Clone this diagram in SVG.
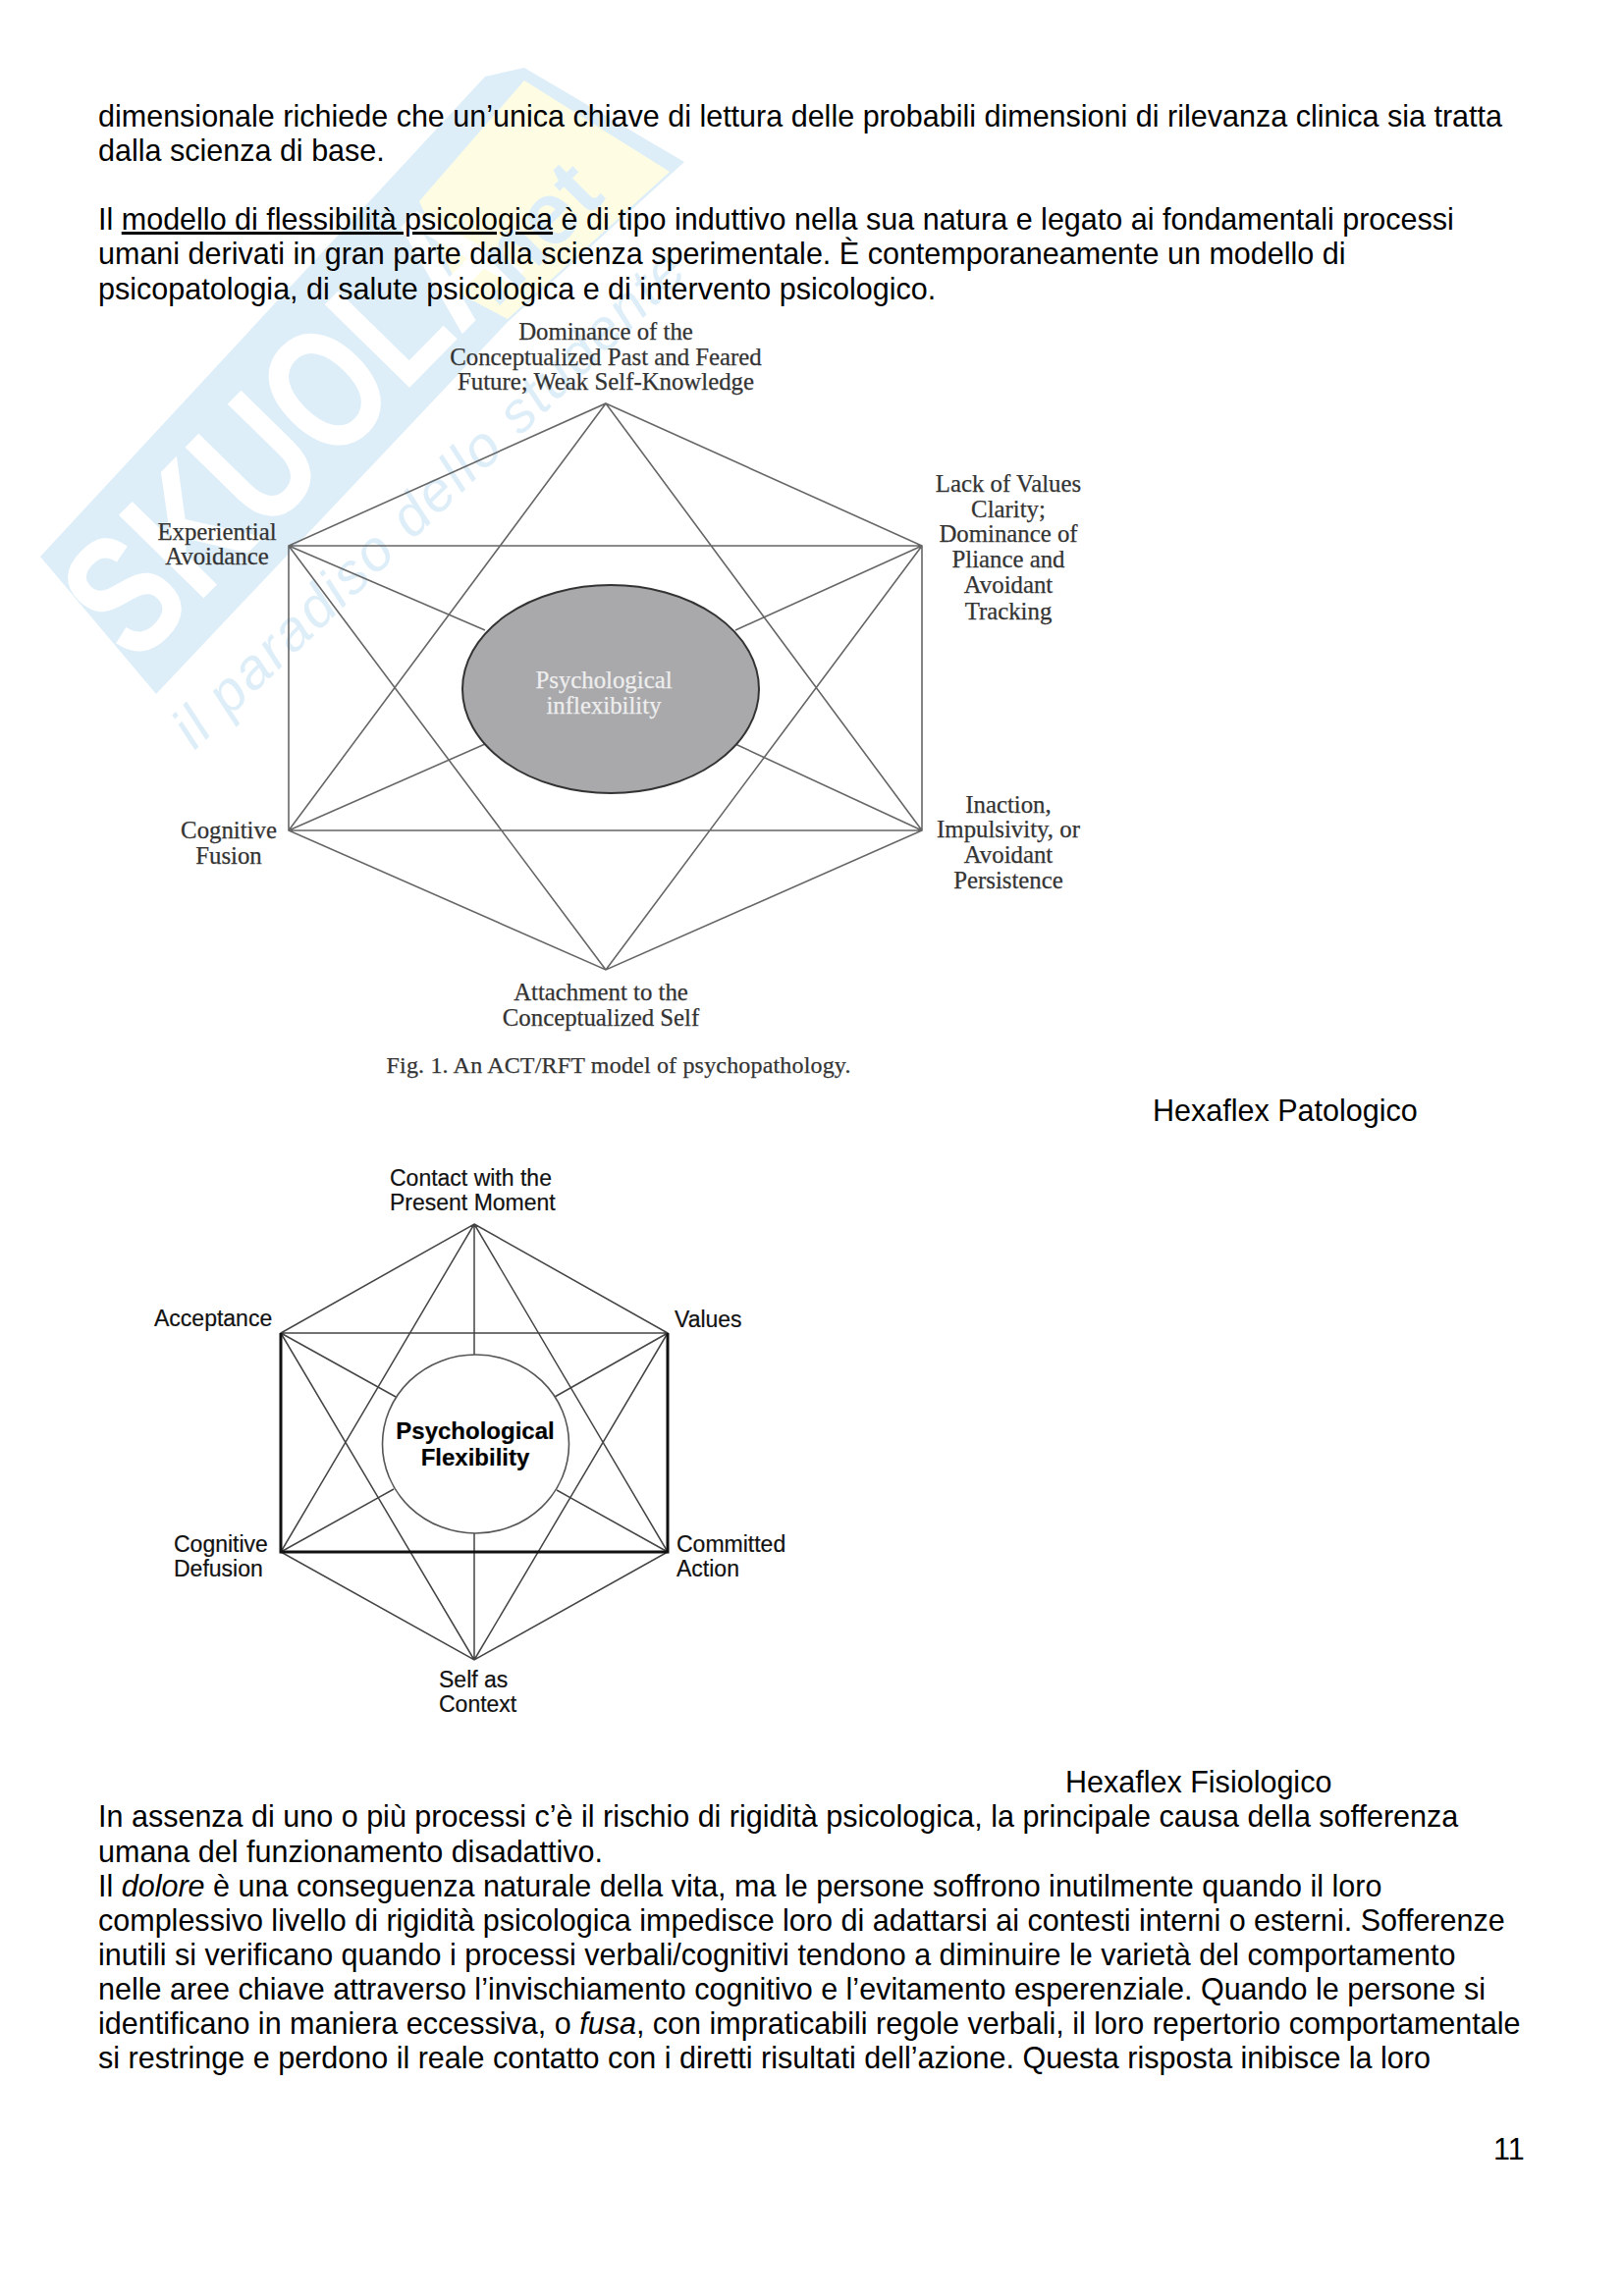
<svg xmlns="http://www.w3.org/2000/svg" width="1653" height="2339" viewBox="0 0 1653 2339">
<style>
.b{font-family:"Liberation Sans",Arial,sans-serif;font-size:30.53px;fill:#000}
.s{font-family:"Liberation Serif","Times New Roman",serif;font-size:24.8px;fill:#333;stroke:#333;stroke-width:.25;text-anchor:middle}
.a{font-family:"Liberation Sans",Arial,sans-serif;font-size:23px;fill:#111;stroke:#111;stroke-width:.2}
.l1{stroke:#666;stroke-width:1.6;fill:none}
.l2{stroke:#444;stroke-width:1.5;fill:none}
.w{font-family:"Liberation Sans",Arial,sans-serif;font-weight:bold}
</style>
<rect width="1653" height="2339" fill="#fff"/>
<g id="watermark">
<polygon points="41,567 494,78 534,69 697,165 517,328 159,707" fill="#deeef8"/>
<polygon points="534,82 682,175 517,325 470,300 427,205" fill="#fefde3"/>
<text class="w" transform="translate(138 680) rotate(-45.600) scale(1 1.3)" font-size="135" fill="#fff">SKUOLA</text>
<text class="w" transform="translate(505 315) rotate(-45)" font-size="90" fill="#deeef8">.net</text>
<text transform="translate(198 765) rotate(-44)" font-family="Liberation Sans, sans-serif" font-style="italic" font-size="58" textLength="700" fill="#deeef8">il paradiso dello studente</text>
</g>
<g id="page-text">
<text class="b" x="100" y="129">dimensionale richiede che un’unica chiave di lettura delle probabili dimensioni di rilevanza clinica sia tratta</text>
<text class="b" x="100" y="164">dalla scienza di base.</text>
<text class="b" x="100" y="234">Il <tspan text-decoration="underline">modello di flessibilità psicologica</tspan> è di tipo induttivo nella sua natura e legato ai fondamentali processi</text>
<text class="b" x="100" y="269">umani derivati in gran parte dalla scienza sperimentale. È contemporaneamente un modello di</text>
<text class="b" x="100" y="305">psicopatologia, di salute psicologica e di intervento psicologico.</text>
<text class="b" x="1174" y="1142">Hexaflex Patologico</text>
<text class="b" x="1085" y="1826">Hexaflex Fisiologico</text>
<text class="b" x="100" y="1861">In assenza di uno o più processi c’è il rischio di rigidità psicologica, la principale causa della sofferenza</text>
<text class="b" x="100" y="1897">umana del funzionamento disadattivo.</text>
<text class="b" x="100" y="1932">Il <tspan font-style="italic">dolore</tspan> è una conseguenza naturale della vita, ma le persone soffrono inutilmente quando il loro</text>
<text class="b" x="100" y="1967">complessivo livello di rigidità psicologica impedisce loro di adattarsi ai contesti interni o esterni. Sofferenze</text>
<text class="b" x="100" y="2002">inutili si verificano quando i processi verbali/cognitivi tendono a diminuire le varietà del comportamento</text>
<text class="b" x="100" y="2037">nelle aree chiave attraverso l’invischiamento cognitivo e l’evitamento esperenziale. Quando le persone si</text>
<text class="b" x="100" y="2072">identificano in maniera eccessiva, o <tspan font-style="italic">fusa</tspan>, con impraticabili regole verbali, il loro repertorio comportamentale</text>
<text class="b" x="100" y="2107">si restringe e perdono il reale contatto con i diretti risultati dell’azione. Questa risposta inibisce la loro</text>
<text class="b" x="1521" y="2200">11</text>
</g>
<g id="connectors-pathological">
<path class="l1" d="M617 411L939 556V846L617 988L294 846V556ZM294 556H939M294 846H939M617 411L294 846M617 411L939 846M617 988L294 556M617 988L939 556M294 556L494 642M939 556L749 642M294 846L494 758M939 846L749 758"/>
</g>
<g id="node-inflexibility"><ellipse cx="622" cy="702" rx="151" ry="106" fill="#a9a9ac" stroke="#333" stroke-width="2"/>
<text class="s" x="615" y="701" style="fill:#eee;stroke:#eee">Psychological</text><text class="s" x="615" y="727" style="fill:#eee;stroke:#eee">inflexibility</text></g>
<g id="node-p-top"><text class="s" x="617" y="346">Dominance of the</text><text class="s" x="617" y="372">Conceptualized Past and Feared</text><text class="s" x="617" y="397">Future; Weak Self-Knowledge</text></g>
<g id="node-p-tr"><text class="s" x="1027" y="501">Lack of Values</text><text class="s" x="1027" y="527">Clarity;</text><text class="s" x="1027" y="552">Dominance of</text><text class="s" x="1027" y="578">Pliance and</text><text class="s" x="1027" y="604">Avoidant</text><text class="s" x="1027" y="631">Tracking</text></g>
<g id="node-p-tl"><text class="s" x="221" y="550">Experiential</text><text class="s" x="221" y="575">Avoidance</text></g>
<g id="node-p-bl"><text class="s" x="233" y="854">Cognitive</text><text class="s" x="233" y="880">Fusion</text></g>
<g id="node-p-br"><text class="s" x="1027" y="828">Inaction,</text><text class="s" x="1027" y="853">Impulsivity, or</text><text class="s" x="1027" y="879">Avoidant</text><text class="s" x="1027" y="905">Persistence</text></g>
<g id="node-p-bottom"><text class="s" x="612" y="1019">Attachment to the</text><text class="s" x="612" y="1045">Conceptualized Self</text></g>
<text class="s" x="630" y="1093" style="font-size:24px" textLength="473">Fig. 1.  An ACT/RFT model of psychopathology.</text>
<g id="connectors-flexibility">
<path class="l2" d="M483 1247L680 1358V1581L483 1691L286 1581V1358ZM286 1358H680M483 1247L286 1581M483 1247L680 1581M483 1691L286 1358M483 1691L680 1358M483 1247V1380M483 1562V1691M286 1358L403 1423M680 1358L565 1423M286 1581L401 1517M680 1581L567 1518"/>
<path d="M286 1358V1581H680V1358" fill="none" stroke="#111" stroke-width="3"/>
</g>
<g id="node-flexibility"><ellipse cx="484.500" cy="1471" rx="95" ry="91" fill="#fff" stroke="#555" stroke-width="1.600"/>
<text class="a" x="484" y="1466" text-anchor="middle" font-weight="bold" style="font-size:24px;fill:#000">Psychological</text><text class="a" x="484" y="1493" text-anchor="middle" font-weight="bold" style="font-size:24px;fill:#000">Flexibility</text></g>
<g id="node-f-top"><text class="a" x="397" y="1208">Contact with the</text><text class="a" x="397" y="1233">Present Moment</text></g>
<g id="node-f-tl"><text class="a" x="157" y="1351">Acceptance</text></g>
<g id="node-f-tr"><text class="a" x="687" y="1352">Values</text></g>
<g id="node-f-bl"><text class="a" x="177" y="1581">Cognitive</text><text class="a" x="177" y="1606">Defusion</text></g>
<g id="node-f-br"><text class="a" x="689" y="1581">Committed</text><text class="a" x="689" y="1606">Action</text></g>
<g id="node-f-bottom"><text class="a" x="447" y="1719">Self as</text><text class="a" x="447" y="1744">Context</text></g>
</svg>
